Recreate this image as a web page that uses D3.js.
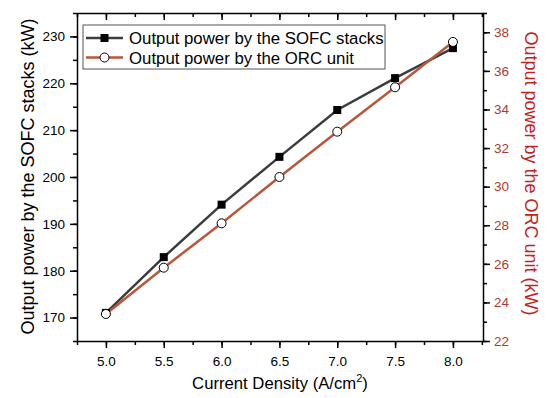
<!DOCTYPE html>
<html>
<head>
<meta charset="utf-8">
<style>
  body { margin: 0; background: #fff; }
  svg { display: block; font-family: "Liberation Sans", Arial, sans-serif; }
  .axis path, .axis line { stroke: #000; stroke-width: 1.5; }
  .axis text { font-size: 13.5px; fill: #000; }
</style>
<script src="https://cdn.jsdelivr.net/npm/d3@7"></script>
</head>
<body>
<div id="vis"></div>
<script>
  var density = [5.0, 5.5, 6.0, 6.5, 7.0, 7.5, 8.0];
  var sofcPower = [171, 182.9, 194.1, 204.3, 214.3, 221.1, 227.5];
  var orcPower = [23.4, 25.8, 28.1, 30.5, 32.85, 35.15, 37.5];
  var xTicks = [5.0, 5.5, 6.0, 6.5, 7.0, 7.5, 8.0];
  var leftTicks = [170, 180, 190, 200, 210, 220, 230];
  var rightTicks = [22, 24, 26, 28, 30, 32, 34, 36, 38];
  var seriesNames = ['Output power by the SOFC stacks', 'Output power by the ORC unit'];

  var W = 550, H = 398;
  var m = {left: 77, right: 67, top: 13, bottom: 57};
  var pw = W - m.left - m.right, ph = H - m.top - m.bottom;
  var orcColor = '#b9573b', sofcColor = '#3c3c3c', rightText = '#b03a2e';

  var svg = d3.select('#vis').append('svg').attr('width', W).attr('height', H);
  var g = svg.append('g').attr('transform', 'translate(' + m.left + ',' + m.top + ')');

  var x = d3.scaleLinear().domain([4.75, 8.26]).range([0, pw]);
  var yL = d3.scaleLinear().domain([165, 235]).range([ph, 0]);
  var yR = d3.scaleLinear().domain([22, 39]).range([ph, 0]);

  // minor ticks first
  var minor = function(sel, axis) { sel.call(axis).selectAll('text').remove(); sel.select('.domain').remove(); };
  g.append('g').attr('class', 'axis').attr('transform', 'translate(0,' + ph + ')')
    .call(minor, d3.axisBottom(x).tickValues(d3.range(4.75, 8.26, 0.25)).tickSize(4));
  g.append('g').attr('class', 'axis')
    .call(minor, d3.axisBottom(x).tickValues(d3.range(4.75, 8.26, 0.25)).tickSize(4));
  g.append('g').attr('class', 'axis')
    .call(minor, d3.axisLeft(yL).tickValues(d3.range(165, 236, 5)).tickSize(4));
  g.append('g').attr('class', 'axis').attr('transform', 'translate(' + pw + ',0)')
    .call(minor, d3.axisRight(yR).tickValues(d3.range(22, 39.1, 1)).tickSize(4));

  g.append('g').attr('class', 'axis').attr('transform', 'translate(0,' + ph + ')')
    .call(d3.axisBottom(x).tickValues(xTicks).tickFormat(d3.format('.1f')).tickSize(7).tickSizeOuter(0).tickPadding(8));
  g.append('g').attr('class', 'axis')
    .call(d3.axisBottom(x).tickValues(xTicks).tickSize(7).tickSizeOuter(0))
    .call(function(s) { s.selectAll('text').remove(); });
  g.append('g').attr('class', 'axis')
    .call(d3.axisLeft(yL).tickValues(leftTicks).tickSize(7).tickSizeOuter(0).tickPadding(5));
  var ra = g.append('g').attr('class', 'axis').attr('transform', 'translate(' + pw + ',0)')
    .call(d3.axisRight(yR).tickValues(rightTicks).tickSize(7).tickSizeOuter(0).tickPadding(4));
  ra.selectAll('text').style('fill', rightText);

  // lines
  var lineL = d3.line().x(function(d, i) { return x(density[i]); }).y(function(d) { return yL(d); });
  var lineR = d3.line().x(function(d, i) { return x(density[i]); }).y(function(d) { return yR(d); });

  g.append('path').datum(sofcPower).attr('d', lineL)
    .attr('fill', 'none').attr('stroke', sofcColor).attr('stroke-width', 2.5);
  g.append('path').datum(orcPower).attr('d', lineR)
    .attr('fill', 'none').attr('stroke', orcColor).attr('stroke-width', 2.5);

  g.selectAll('.sq').data(sofcPower).enter().append('rect')
    .attr('x', function(d, i) { return x(density[i]) - 4; })
    .attr('y', function(d) { return yL(d) - 4; })
    .attr('width', 8).attr('height', 8).attr('fill', '#000');
  g.selectAll('.ci').data(orcPower).enter().append('circle')
    .attr('cx', function(d, i) { return x(density[i]); })
    .attr('cy', function(d) { return yR(d); })
    .attr('r', 4.5).attr('fill', '#fff').attr('stroke', '#000').attr('stroke-width', 1);

  // legend
  var lg = svg.append('g').attr('transform', 'translate(83,25)');
  lg.append('rect').attr('width', 302).attr('height', 44)
    .attr('fill', '#fff').attr('stroke', '#555').attr('stroke-width', 1);
  [0, 1].forEach(function(i) {
    var yy = 13 + i * 19.5;
    lg.append('line').attr('x1', 3).attr('x2', 40).attr('y1', yy).attr('y2', yy)
      .attr('stroke', i ? orcColor : sofcColor).attr('stroke-width', 2.5);
    if (i) lg.append('circle').attr('cx', 21.5).attr('cy', yy).attr('r', 4.5)
      .attr('fill', '#fff').attr('stroke', '#000');
    else lg.append('rect').attr('x', 17.5).attr('y', yy - 4).attr('width', 8).attr('height', 8).attr('fill', '#000');
    lg.append('text').attr('x', 46).attr('y', yy + 6).style('font-size', '16.8px').text(seriesNames[i]);
  });

  // axis titles
  var xt = svg.append('text').attr('x', m.left + pw / 2).attr('y', 389)
    .attr('text-anchor', 'middle').style('font-size', '16.7px');
  xt.append('tspan').text('Current Density (A/cm');
  xt.append('tspan').attr('dy', -7).style('font-size', '11px').text('2');
  xt.append('tspan').attr('dy', 7).text(')');

  svg.append('text').attr('transform', 'translate(34,176.5) rotate(-90)')
    .attr('text-anchor', 'middle').style('font-size', '18px').text('Output power by the SOFC stacks (kW)');
  svg.append('text').attr('transform', 'translate(525,173.5) rotate(90)')
    .attr('text-anchor', 'middle').style('font-size', '18px').style('fill', '#c0241c')
    .text('Output power by the ORC unit (kW)');
</script>
</body>
</html>
